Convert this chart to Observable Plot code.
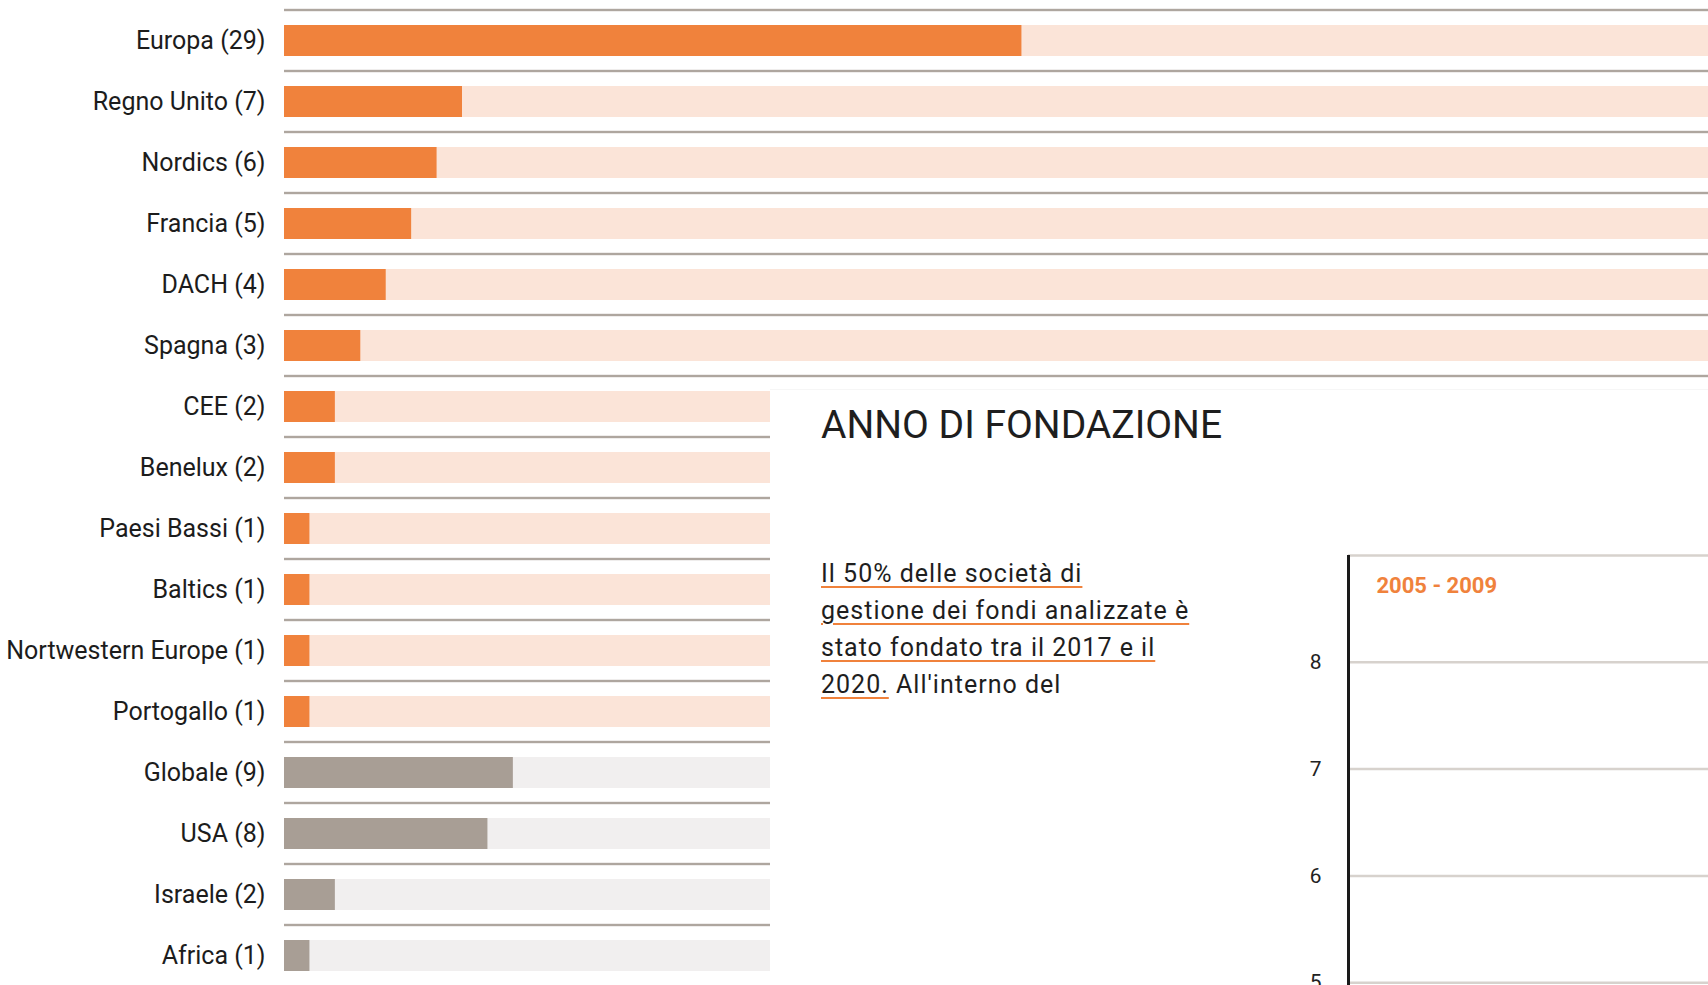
<!DOCTYPE html>
<html>
<head>
<meta charset="utf-8">
<script src="https://cdn.jsdelivr.net/npm/d3@7"></script>
<script src="https://cdn.jsdelivr.net/npm/@observablehq/plot@0.6"></script>
<style>
  html, body { margin: 0; padding: 0; background: #fff; overflow: hidden; width: 1708px; height: 985px; }
  body { position: relative; font-family: Roboto, "Noto Sans", sans-serif; color: #1c1c1c; }
  #bars { position: absolute; left: 0; top: 0; }
  #overlay { position: absolute; left: 770px; top: 389px; width: 938px; height: 596px; background: #fff; border-top: 1px solid #f6f6f6; overflow: hidden; }
  #title { position: absolute; left: 51px; top: 16px; font-size: 39px; line-height: 1; font-weight: 400; white-space: nowrap; color: #1e1e1e; }
  #para { position: absolute; left: 51px; top: 165px; font-size: 25px; line-height: 37px; letter-spacing: 1px; white-space: nowrap; margin: 0; color: #1e1e1e; }
  #para .u { text-decoration: underline; text-decoration-color: #f0823c; text-decoration-thickness: 2px; text-underline-offset: 4px; }
  #chart2 { position: absolute; left: 0; top: 155px; }
</style>
</head>
<body>
<div id="bars"></div>
<div id="overlay">
  <div id="title"></div>
  <p id="para"></p>
  <div id="chart2"></div>
</div>
<script>
// ---- Data: regional breakdown ----
const regions = ["Europa", "Regno Unito", "Nordics", "Francia", "DACH", "Spagna", "CEE", "Benelux",
  "Paesi Bassi", "Baltics", "Nortwestern Europe", "Portogallo", "Globale", "USA", "Israele", "Africa"];
const counts = [29, 7, 6, 5, 4, 3, 2, 2, 1, 1, 1, 1, 9, 8, 2, 1];
const groups = ["europa", "europa", "europa", "europa", "europa", "europa", "europa", "europa",
  "europa", "europa", "europa", "europa", "mondo", "mondo", "mondo", "mondo"];
const trackTotal = 56;

// ---- Data: second panel ----
const sectionTitle = "ANNO DI FONDAZIONE";
const paraUnderlined = ["Il 50% delle società di", "gestione dei fondi analizzate è", "stato fondato tra il 2017 e il", "2020."];
const paraRest = " All'interno del";
const yTicks = [5, 6, 7, 8];
const yTop = 9;
const periodLabel = "2005 - 2009";

const barColor = {europa: "#f0823c", mondo: "#a89e95"};
const trackColor = {europa: "#fbe4d8", mondo: "#f1efef"};

const rows = regions.map((r, i) => ({region: r, count: counts[i], group: groups[i]}));
const labelOf = new Map(rows.map(d => [d.region, `${d.region} (${d.count})`]));

const bars = Plot.plot({
  width: 1708,
  height: 986,
  marginLeft: 284,
  marginRight: 0,
  marginTop: 9,
  marginBottom: 0,
  style: {fontFamily: "Roboto", fontSize: "25px", color: "#1c1c1c", background: "transparent", overflow: "visible"},
  x: {domain: [0, trackTotal], axis: null},
  y: {domain: regions, padding: 0, label: null, tickSize: 0, tickPadding: 19, tickFormat: d => labelOf.get(d)},
  marks: [
    // separators at the top of each row
    Plot.barX(rows, {x: () => trackTotal, y: "region", fill: "#aea69f", insetTop: -1.2, insetBottom: 59.8}),
    // tracks
    Plot.barX(rows, {x: () => trackTotal, y: "region", fill: d => trackColor[d.group], insetTop: 15, insetBottom: 15}),
    // values
    Plot.barX(rows, {x: "count", y: "region", fill: d => barColor[d.group], insetTop: 15, insetBottom: 15})
  ]
});
document.getElementById("bars").appendChild(bars);

document.getElementById("title").textContent = sectionTitle;
const para = document.getElementById("para");
paraUnderlined.forEach((line, i) => {
  const s = document.createElement("span");
  s.className = "u";
  s.textContent = line;
  para.appendChild(s);
  if (i < paraUnderlined.length - 1) para.appendChild(document.createElement("br"));
});
para.appendChild(document.createTextNode(paraRest));

const chart2 = Plot.plot({
  width: 938,
  height: 544,
  marginLeft: 578,
  marginRight: 0,
  marginTop: 10,
  marginBottom: 0,
  style: {fontFamily: "Roboto", fontSize: "21px", color: "#222", background: "transparent"},
  x: {domain: [0, 1], axis: null},
  y: {domain: [4, yTop], ticks: yTicks, tickFormat: d3.format("d"), tickSize: 0, tickPadding: 27, label: null},
  marks: [
    Plot.ruleY([...yTicks, yTop], {stroke: "#d7d2cd", strokeWidth: 2.5}),
    Plot.ruleX([0], {stroke: "#1a1a1a", strokeWidth: 3}),
    Plot.text([periodLabel], {frameAnchor: "top-left", text: d => d, textAnchor: "start", lineAnchor: "top",
      dx: 28, dy: 22, fill: "#f0823c", fontSize: 22, fontWeight: 700})
  ]
});
document.getElementById("chart2").appendChild(chart2);
</script>
</body>
</html>
